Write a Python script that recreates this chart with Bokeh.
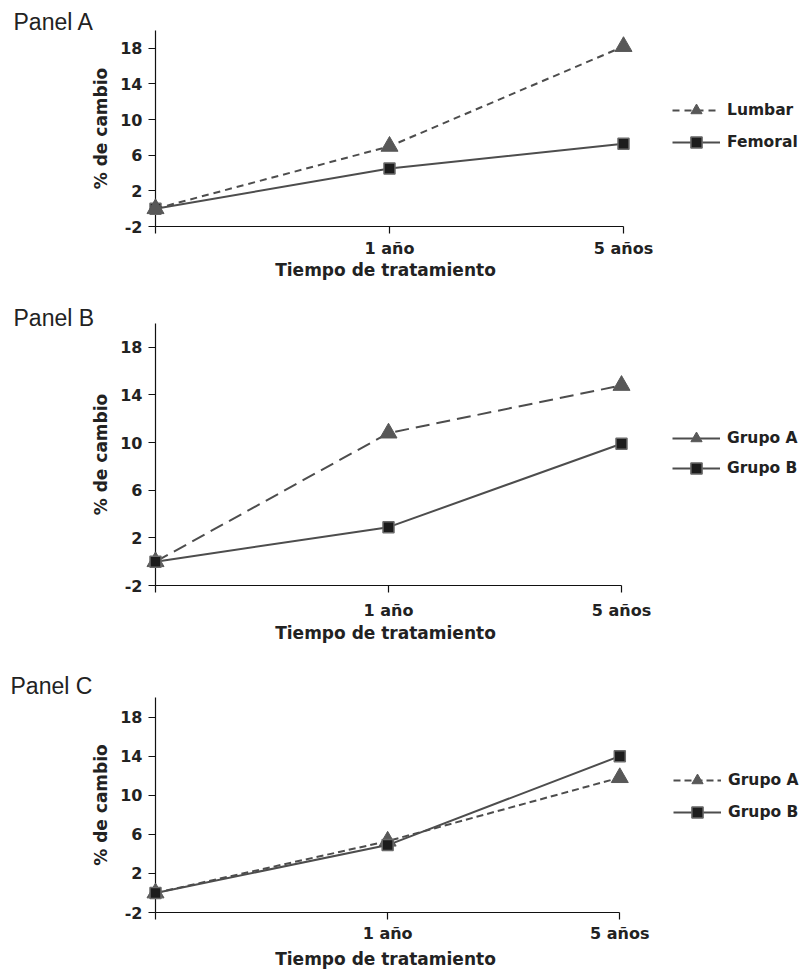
from bokeh.plotting import figure
from bokeh.models import Range1d, FixedTicker, Legend, LegendItem, Title
from bokeh.layouts import column
from bokeh.embed import file_html
from bokeh.resources import INLINE

# ---------------- data ----------------
time_labels = ["", "1 año", "5 años"]
time_pos = [0, 1, 2]
y_ticks = [-2, 2, 6, 10, 14, 18]
y_min, y_max = -2, 20

a_lumbar = [0.0, 7.0, 18.2]
a_femoral = [0.0, 4.5, 7.3]
b_grupo_a = [0.0, 10.8, 14.8]
b_grupo_b = [0.0, 2.9, 9.9]
c_grupo_a = [0.0, 5.3, 11.8]
c_grupo_b = [0.0, 4.9, 14.0]

x_title = "Tiempo de tratamiento"
y_title = "% de cambio"

# ---------------- styles ----------------
W = 801
LINE = "#4d4d4d"
TRI = "#585858"
SQ_FILL = "#1c1c1c"
SQ_LINE = "#6a6a6a"
AX = "#111111"
TXT = "#222222"
BOLD_FONT = "DejaVu Sans"
XT_SIZE = 17
XT_EM = 12.977  # width of x_title in em for DejaVu Sans Bold


def make_panel(title, n1, v1, dash1, solid_legend1, n2, v2, geo, tri_on_top):
    (top, height, ax_l, ax_r, fr_t, fr_b, lab_x, title_so,
     leg_x, leg_y2, pitch, tick_so, xtitle_so, xtitle_cx) = geo
    unit = (ax_r - ax_l) / (time_pos[-1] - time_pos[0])
    # frame runs on to the right edge so the legend is inside it
    x_end = time_pos[-1] + (W - ax_r) / unit
    p = figure(width=W, height=height,
               x_range=Range1d(time_pos[0], x_end),
               y_range=Range1d(y_min, y_max),
               output_backend="svg", toolbar_location=None,
               min_border_left=ax_l, min_border_right=0,
               min_border_top=fr_t - top,
               min_border_bottom=top + height - fr_b)
    p.title = Title(text=title, align="left", offset=lab_x - ax_l,
                    standoff=title_so, vertical_align="bottom",
                    text_font="Liberation Sans", text_font_size="23px",
                    text_font_style="normal", text_color=TXT)
    p.xgrid.visible = False
    p.ygrid.visible = False
    p.outline_line_color = None
    p.background_fill_color = "white"
    p.border_fill_color = "white"

    def tri_series():
        l = p.line(time_pos, v1, line_color=LINE, line_width=2,
                   line_dash=dash1, level="overlay")
        m = p.scatter(time_pos, v1, marker="triangle", size=17,
                      fill_color=TRI, line_color=TRI, line_width=1,
                      level="overlay")
        return l, m

    def sq_series():
        l = p.line(time_pos, v2, line_color=LINE, line_width=2,
                   level="overlay")
        m = p.scatter(time_pos, v2, marker="square", size=11,
                      fill_color=SQ_FILL, line_color=SQ_LINE, line_width=1.5,
                      level="overlay")
        return l, m

    if tri_on_top:
        l2, m2 = sq_series()
        l1, m1 = tri_series()
    else:
        l1, m1 = tri_series()
        l2, m2 = sq_series()

    l1_leg = l2 if solid_legend1 else l1

    gh = 28
    leg_bottom = leg_y2 + gh / 2.0
    legend = Legend(items=[LegendItem(label=n1, renderers=[l1_leg, m1]),
                           LegendItem(label=n2, renderers=[l2, m2])],
                    location=(leg_x - ax_l, fr_b - leg_bottom),
                    glyph_width=48, glyph_height=gh, label_height=gh,
                    label_standoff=7, spacing=pitch - gh, padding=0, margin=0,
                    border_line_color=None, background_fill_alpha=0,
                    label_text_font=BOLD_FONT, label_text_font_style="bold",
                    label_text_font_size="15.5px", label_text_color=TXT)
    p.add_layout(legend)

    xa = p.xaxis[0]
    xa.ticker = FixedTicker(ticks=time_pos)
    xa.major_label_overrides = {t: lab for t, lab in zip(time_pos, time_labels)}
    xa.bounds = (time_pos[0], time_pos[-1])
    ya = p.yaxis[0]
    ya.ticker = FixedTicker(ticks=y_ticks)
    ya.major_label_overrides = {t: str(t) for t in y_ticks}
    for ax in (xa, ya):
        ax.axis_line_color = AX
        ax.axis_line_width = 1.2
        ax.major_tick_line_color = AX
        ax.major_tick_line_width = 1.2
        ax.major_tick_out = 7
        ax.major_tick_in = 0
        ax.minor_tick_out = 0
        ax.minor_tick_in = 0
        ax.major_label_text_font = BOLD_FONT
        ax.major_label_text_font_style = "bold"
        ax.major_label_text_font_size = "16px"
        ax.major_label_text_color = TXT
        ax.axis_label_text_font = BOLD_FONT
        ax.axis_label_text_font_style = "bold"
        ax.axis_label_text_font_size = "17px"
        ax.axis_label_text_color = TXT
    xa.major_label_standoff = tick_so
    ya.axis_label = y_title
    ya.major_label_standoff = 6
    ya.axis_label_standoff = 6

    # x-axis title, centred under the drawn axis (0..2), below the tick labels
    half_w = XT_EM * XT_SIZE / 2.0
    p.add_layout(Title(text=x_title, align="left",
                       offset=xtitle_cx - half_w - ax_l,
                       standoff=xtitle_so, vertical_align="top",
                       text_font=BOLD_FONT, text_font_style="bold",
                       text_font_size=f"{XT_SIZE}px", text_color=TXT), "below")
    return p


# geometry (image pixels): top, height, axis-left, axis-right, frame-top,
# frame-bottom, title x, title standoff, legend x, legend 2nd item y, pitch,
# tick label standoff, x title standoff, x title centre
geo_a = (0, 290, 155, 623, 30, 226, 13, -8, 672, 142, 32, 5, -2, 385)
geo_b = (290, 360, 155, 621, 323, 585, 13, -14, 672, 468, 30, 8, 1, 385)
geo_c = (650, 323, 154, 619, 697, 912, 9, -2, 672, 812, 32, 4, 6, 384)

pa = make_panel("Panel A", "Lumbar", a_lumbar, "7 5", False,
                "Femoral", a_femoral, geo_a, True)
pb = make_panel("Panel B", "Grupo A", b_grupo_a, "14 7", True,
                "Grupo B", b_grupo_b, geo_b, False)
pc = make_panel("Panel C", "Grupo A", c_grupo_a, "7 4", False,
                "Grupo B", c_grupo_b, geo_c, False)

layout = column(pa, pb, pc, spacing=0)
open("out.html", "w").write(file_html(layout, INLINE))
